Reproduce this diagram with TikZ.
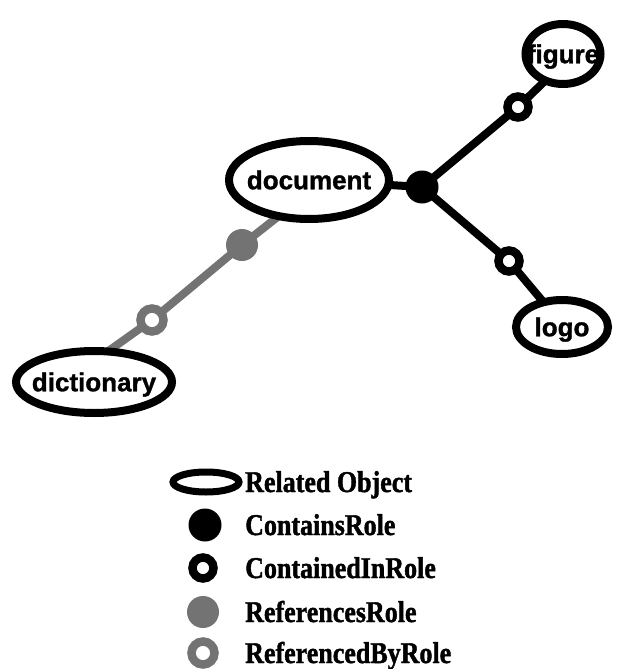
\documentclass[tikz,border=0pt]{standalone}
\usepackage{fontspec}
\usepackage{graphicx}
\newfontfamily\objfont{Liberation Sans}[BoldFeatures={FakeBold=1.2}]
\newfontfamily\legfont{Liberation Serif}[BoldFeatures={FakeBold=1.5}]
\newcommand\legtall[1]{\scalebox{1}[1.16]{#1}}
\usetikzlibrary{shapes.geometric,backgrounds}
\definecolor{hatch}{gray}{0.45}

\begin{document}
\begin{tikzpicture}[x=1pt,y=-1pt,
  obj/.style={ellipse,draw=black,fill=white,line width=8pt,inner sep=0pt},
  objlbl/.style={inner sep=0pt,text height=18.5pt,text depth=0pt,
    font=\objfont\bfseries\fontsize{26}{26}\selectfont},
  contains/.style={circle,fill=black,inner sep=0pt,minimum size=33pt},
  containedin/.style={circle,draw=black,fill=white,line width=8.5pt,inner sep=0pt,minimum size=21pt},
  references/.style={circle,fill=hatch,inner sep=0pt,minimum size=32pt},
  referencedby/.style={circle,draw=hatch,fill=white,line width=8.5pt,inner sep=0pt,minimum size=23pt},
  link/.style={line width=8pt,draw=black},
  reflink/.style={line width=8pt,draw=hatch},
  legtext/.style={anchor=west,inner sep=0pt,text height=20pt,text depth=0pt,
    font=\legfont\bfseries\fontsize{26}{26}\selectfont}
]
\useasboundingbox (0,0) rectangle (618,669);

% related objects
\node[obj,minimum width=75pt,minimum height=60pt] (fig) at (563,54) {};
\node[objlbl] (figlbl) at (fig) {figure};
\node[obj,minimum width=160pt,minimum height=78pt] (doc) at (309,180) {};
\node[objlbl] (doclbl) at (doc) {document};
\node[obj,minimum width=156pt,minimum height=62pt] (dict) at (94,382) {};
\node[objlbl] (dictlbl) at (dict) {dictionary};
\node[obj,minimum width=92pt,minimum height=54pt] (logo) at (562,327) {};
\node[objlbl] (logolbl) at (logo) {logo};

% role markers
\node[contains] (cont) at (422,187) {};
\node[containedin] (cin1) at (518,107) {};
\node[containedin] (cin2) at (509,261) {};
\node[references] (ref) at (242,245) {};
\node[referencedby] (refby) at (152,320) {};

% ends of the links, tucked under the ellipses
\coordinate (figfoot) at (548,78);
\coordinate (logofoot) at (550,310);
\coordinate (docfoot) at (289,208);
\coordinate (dictfoot) at (100,357);

\begin{pgfonlayer}{background}
  \fill[white] (0,0) rectangle (618,669);
  \draw[link] (doc.center) -- (cont.center);
  \draw[link] (cont.center) -- (cin1.center) -- (figfoot);
  \draw[link] (cont.center) -- (cin2.center) -- (logofoot);
  \draw[reflink] (docfoot) -- (ref.center) -- (refby.center) -- (dictfoot);
\end{pgfonlayer}

% legend
\node[obj,line width=7pt,minimum width=66pt,minimum height=20pt] (legobj) at (206,482) {};
\node[legtext] (legobjtxt) at (245,482) {\legtall{Related Object}};
\node[contains] (legcont) at (205,525) {};
\node[legtext] (legconttxt) at (245,525) {\legtall{ContainsRole}};
\node[containedin] (legcin) at (203,568) {};
\node[legtext] (legcintxt) at (245,568) {\legtall{ContainedInRole}};
\node[references] (legref) at (203,612) {};
\node[legtext] (legreftxt) at (245,612) {\legtall{ReferencesRole}};
\node[referencedby] (legrefby) at (203,653) {};
\node[legtext] (legrefbytxt) at (245,653) {\legtall{ReferencedByRole}};
\end{tikzpicture}
\end{document}
